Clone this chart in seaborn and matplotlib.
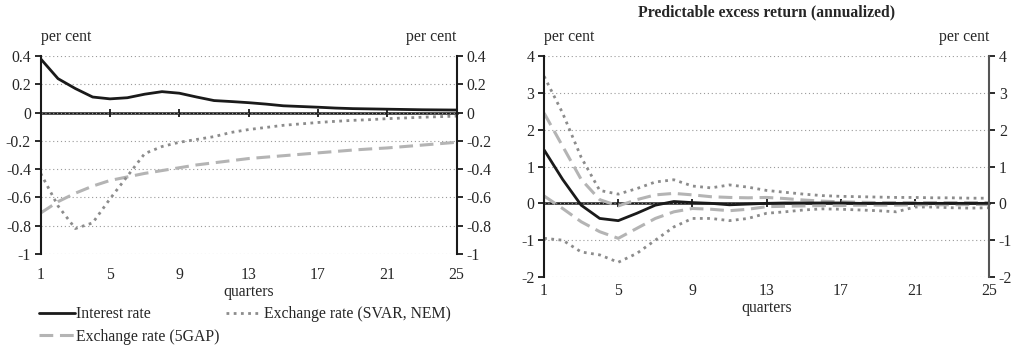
import numpy as np
import matplotlib
matplotlib.use("Agg")
import matplotlib.pyplot as plt
from matplotlib.ticker import FuncFormatter
import seaborn as sns

# Veriler
quarters = list(range(1, 26))
xticks = [1, 5, 9, 13, 17, 21, 25]

# Sol panel
interest = [0.38, 0.24, 0.17, 0.11, 0.097, 0.105, 0.13, 0.148, 0.137, 0.11, 0.085, 0.078, 0.07,
            0.06, 0.048, 0.043, 0.038, 0.032, 0.028, 0.026, 0.024, 0.022, 0.02, 0.019, 0.018]
svar_nem = [-0.43, -0.66, -0.82, -0.78, -0.61, -0.45, -0.29, -0.24, -0.21, -0.19, -0.17, -0.14, -0.12,
            -0.105, -0.09, -0.08, -0.07, -0.062, -0.055, -0.05, -0.043, -0.038, -0.033, -0.029, -0.025]
gap5 = [-0.71, -0.63, -0.57, -0.52, -0.48, -0.455, -0.43, -0.41, -0.39, -0.37, -0.355, -0.34, -0.325,
        -0.315, -0.305, -0.295, -0.285, -0.275, -0.265, -0.257, -0.25, -0.24, -0.23, -0.22, -0.21]
left_yticks = [0.4, 0.2, 0, -0.2, -0.4, -0.6, -0.8, -1]

# Sağ panel: beklenen aşırı getiri
excess = [1.45, 0.65, -0.05, -0.41, -0.47, -0.27, -0.05, 0.05, 0.02, 0.0, -0.04, -0.02, 0.0,
          0.01, 0.01, 0.01, 0.01, 0.0, 0.0, 0.0, 0.0, 0.0, 0.0, 0.0, 0.0]
svar_up = [3.45, 2.45, 1.25, 0.35, 0.25, 0.4, 0.58, 0.64, 0.47, 0.42, 0.5, 0.44, 0.35,
           0.3, 0.25, 0.21, 0.19, 0.18, 0.17, 0.16, 0.16, 0.15, 0.15, 0.14, 0.14]
svar_low = [-0.95, -1.0, -1.32, -1.4, -1.6, -1.36, -1.0, -0.64, -0.41, -0.41, -0.47, -0.41, -0.27,
            -0.23, -0.18, -0.15, -0.16, -0.18, -0.2, -0.23, -0.1, -0.1, -0.12, -0.13, -0.12]
gap_up = [2.45, 1.55, 0.65, 0.1, -0.07, 0.1, 0.23, 0.27, 0.23, 0.18, 0.16, 0.15, 0.16,
          0.13, 0.09, 0.06, 0.04, 0.03, 0.02, 0.02, 0.02, 0.02, 0.02, 0.02, 0.02]
gap_low = [0.2, -0.14, -0.5, -0.77, -0.95, -0.68, -0.41, -0.23, -0.14, -0.16, -0.2, -0.16, -0.09,
           -0.08, -0.07, -0.06, -0.06, -0.05, -0.05, -0.05, -0.04, -0.04, -0.04, -0.03, -0.03]
right_yticks = [4, 3, 2, 1, 0, -1, -2]

sns.set_style("white")
plt.rcParams['font.family'] = ['Liberation Serif', 'DejaVu Serif']
plt.rcParams['font.size'] = 11.3
plt.rcParams['axes.unicode_minus'] = False

BLACK = '#1a1a1a'
DOT = '#8c8c8c'
DASH = '#b4b4b4'
dot_ls = (0, (1, 1.6))
dash_ls = (0, (4.5, 2.2))

fig = plt.figure(figsize=(10.17, 3.49), dpi=100)
ax1 = fig.add_axes([0.040, 0.2722, 0.409, 0.5673])
ax2 = fig.add_axes([0.535, 0.2063, 0.4375, 0.6332])


def style_axis(ax, yticks, ylim, xpad):
    ax.set_xlim(1, 25)
    ax.set_ylim(*ylim)
    ax.set_yticks(yticks)
    ax.yaxis.set_major_formatter(FuncFormatter(lambda v, p: '%g' % v))
    ax.set_xticks(xticks)
    ax.yaxis.grid(True, linestyle=(0, (1, 2.5)), color='#9a9a9a', lw=0.8)
    ax.xaxis.grid(False)
    for s in ['left', 'right']:
        ax.spines[s].set_color(BLACK)
        ax.spines[s].set_linewidth(1.5)
    ax.spines['top'].set_visible(False)
    ax.spines['bottom'].set_visible(False)
    ax.tick_params(axis='y', left=True, right=True, labelleft=True, labelright=True,
                   direction='out', length=4.5, width=1.3, color=BLACK, pad=2.5)
    ax.tick_params(axis='x', bottom=False, length=0, pad=xpad)
    # sıfır çizgisi ve üzerindeki işaretler
    frac = (0 - ylim[0]) / (ylim[1] - ylim[0])
    sec = ax.secondary_xaxis(frac)
    sec.set_xticks(xticks)
    sec.set_xticklabels([])
    sec.tick_params(direction='inout', length=6, width=1.3, color=BLACK,
                    labelbottom=False, labeltop=False)
    for s in sec.spines.values():
        s.set_color(BLACK)
        s.set_linewidth(1.8)
    ax.set_xlabel('quarters', labelpad=1)
    ax.set_ylabel('')
    ax.text(0, 1 + 19 / (ax.bbox.height), 'per cent', transform=ax.transAxes, ha='left', va='center')
    ax.text(1, 1 + 19 / (ax.bbox.height), 'per cent', transform=ax.transAxes, ha='right', va='center')


# Sol panel
sns.lineplot(x=quarters, y=interest, ax=ax1, color=BLACK, lw=2, label='Interest rate')
sns.lineplot(x=quarters, y=gap5, ax=ax1, color=DASH, lw=2.2, linestyle=dash_ls, label='Exchange rate (5GAP)')
sns.lineplot(x=quarters, y=svar_nem, ax=ax1, color=DOT, lw=2, linestyle=dot_ls, label='Exchange rate (SVAR, NEM)')
style_axis(ax1, left_yticks, (-1, 0.4), 9)
ax1.legend(loc='upper left', bbox_to_anchor=(-0.005, -0.265), ncol=2, frameon=False,
           handlelength=2.3, handletextpad=0.1, columnspacing=0.4, labelspacing=0.4,
           borderaxespad=0, borderpad=0)

# Sağ panel
sns.lineplot(x=quarters, y=svar_up, ax=ax2, color=DOT, lw=2, linestyle=dot_ls)
sns.lineplot(x=quarters, y=svar_low, ax=ax2, color=DOT, lw=2, linestyle=dot_ls)
sns.lineplot(x=quarters, y=gap_up, ax=ax2, color=DASH, lw=2.2, linestyle=dash_ls)
sns.lineplot(x=quarters, y=gap_low, ax=ax2, color=DASH, lw=2.2, linestyle=dash_ls)
sns.lineplot(x=quarters, y=excess, ax=ax2, color=BLACK, lw=2)
style_axis(ax2, right_yticks, (-2, 4), 4)
ax2.spines['right'].set_color('#555555')
ax2.text(0.5, 1 + 44 / ax2.bbox.height, 'Predictable excess return (annualized)',
         transform=ax2.transAxes, ha='center', va='center', fontweight='bold')

fig.savefig('out.png', dpi=100)
